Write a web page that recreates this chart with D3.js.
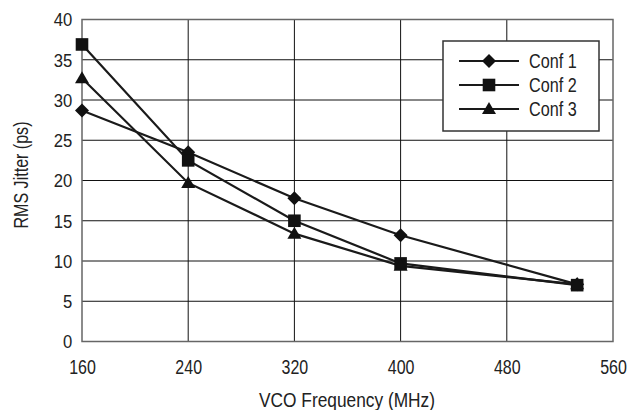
<!DOCTYPE html>
<html>
<head>
<meta charset="utf-8">
<script src="https://cdn.jsdelivr.net/npm/d3@7"></script>
<style>
  body { margin: 0; background: #fff; }
  svg text { font-family: "Liberation Sans", Arial, sans-serif; fill: #222; }
</style>
</head>
<body>
<svg id="chart" width="629" height="410"></svg>
<script>
// data
var freqs = [160, 240, 320, 400, 533];
var conf1 = [28.7, 23.5, 17.8, 13.2, 7.1];
var conf2 = [36.9, 22.5, 15.0, 9.7, 7.0];
var conf3 = [32.7, 19.7, 13.4, 9.4, 7.1];
var seriesNames = ["Conf 1", "Conf 2", "Conf 3"];
var xTicks = [160, 240, 320, 400, 480, 560];
var yTicks = [0, 5, 10, 15, 20, 25, 30, 35, 40];

var svg = d3.select("#chart");
var pLeft = 82, pRight = 613, pTop = 19.5, pBottom = 341.5;

var x = d3.scaleLinear().domain([160, 560]).range([pLeft, pRight]);
var y = d3.scaleLinear().domain([0, 40]).range([pBottom, pTop]);

// grid
svg.append("g").selectAll("line")
    .data(yTicks.slice(1, -1))
    .enter().append("line")
    .attr("x1", pLeft).attr("x2", pRight)
    .attr("y1", d => y(d)).attr("y2", d => y(d))
    .attr("stroke", "#111").attr("stroke-width", 1);
svg.append("g").selectAll("line")
    .data(xTicks.slice(1, -1))
    .enter().append("line")
    .attr("y1", pTop).attr("y2", pBottom)
    .attr("x1", d => x(d)).attr("x2", d => x(d))
    .attr("stroke", "#111").attr("stroke-width", 1);

// frame
svg.append("rect")
    .attr("x", pLeft).attr("y", pTop)
    .attr("width", pRight - pLeft).attr("height", pBottom - pTop)
    .attr("fill", "none").attr("stroke", "#666").attr("stroke-width", 1.5);

// axes (labels only), regular face squeezed to look like Arial Narrow
var xs = 0.78, ys = 0.9;
var xAxis = svg.append("g")
    .attr("transform", "translate(0," + pBottom + ")")
    .call(d3.axisBottom(x).tickValues(xTicks).tickSize(0).tickFormat(d3.format("d")));
xAxis.select(".domain").remove();
xAxis.selectAll("text")
    .style("font-size", "20.5px").attr("fill", "#222")
    .attr("y", 33).attr("dy", 0)
    .attr("transform", "scale(" + xs + ",1)");

var yAxis = svg.append("g")
    .attr("transform", "translate(" + pLeft + ",0)")
    .call(d3.axisLeft(y).tickValues(yTicks).tickSize(0));
yAxis.select(".domain").remove();
yAxis.selectAll("text")
    .style("font-size", "18.5px").attr("fill", "#222")
    .attr("x", -9.7 / ys).attr("dy", "0.34em")
    .attr("transform", "scale(" + ys + ",1)");

svg.append("text")
    .attr("x", 347).attr("y", 407)
    .attr("text-anchor", "middle")
    .attr("textLength", 176).attr("lengthAdjust", "spacingAndGlyphs")
    .style("font-size", "19.5px")
    .text("VCO Frequency (MHz)");

svg.append("text")
    .attr("transform", "translate(27.5,175) rotate(-90)")
    .attr("text-anchor", "middle")
    .attr("textLength", 107).attr("lengthAdjust", "spacingAndGlyphs")
    .style("font-size", "21px")
    .text("RMS Jitter (ps)");

// marker shapes
var diamond = { draw: function(c) { var r = 7; c.moveTo(0, -r); c.lineTo(r, 0); c.lineTo(0, r); c.lineTo(-r, 0); c.closePath(); } };
var square = { draw: function(c) { var r = 6.3; c.rect(-r, -r, 2 * r, 2 * r); } };
var triangle = { draw: function(c) { c.moveTo(0, -7); c.lineTo(7, 5); c.lineTo(-7, 5); c.closePath(); } };
var symbols = [d3.symbol().type(diamond), d3.symbol().type(square), d3.symbol().type(triangle)];

// series
var series = [conf1, conf2, conf3];
var line = d3.line()
    .x((d, i) => x(freqs[i]))
    .y(d => y(d));

series.forEach(function(vals) {
    svg.append("path")
        .datum(vals)
        .attr("d", line)
        .attr("fill", "none")
        .attr("stroke", "#1a1a1a")
        .attr("stroke-width", 2.2);
});
series.forEach(function(vals, k) {
    svg.append("g").selectAll("path")
        .data(vals)
        .enter().append("path")
        .attr("d", symbols[k])
        .attr("transform", (d, i) => "translate(" + x(freqs[i]) + "," + y(d) + ")")
        .attr("fill", "#111");
});

// legend
var lg = svg.append("g");
lg.append("rect")
    .attr("x", 443).attr("y", 41)
    .attr("width", 156).attr("height", 90)
    .attr("fill", "#fff").attr("stroke", "#333").attr("stroke-width", 1.5);
var rowY = [61, 85, 109];
seriesNames.forEach(function(name, k) {
    lg.append("line")
        .attr("x1", 459).attr("x2", 519)
        .attr("y1", rowY[k]).attr("y2", rowY[k])
        .attr("stroke", "#1a1a1a").attr("stroke-width", 2.2);
    lg.append("path")
        .attr("d", symbols[k])
        .attr("transform", "translate(489," + rowY[k] + ")")
        .attr("fill", "#111");
    lg.append("text")
        .attr("transform", "translate(529," + rowY[k] + ") scale(0.81,1)")
        .attr("dy", "0.36em")
        .style("font-size", "20px")
        .text(name);
});
</script>
</body>
</html>
